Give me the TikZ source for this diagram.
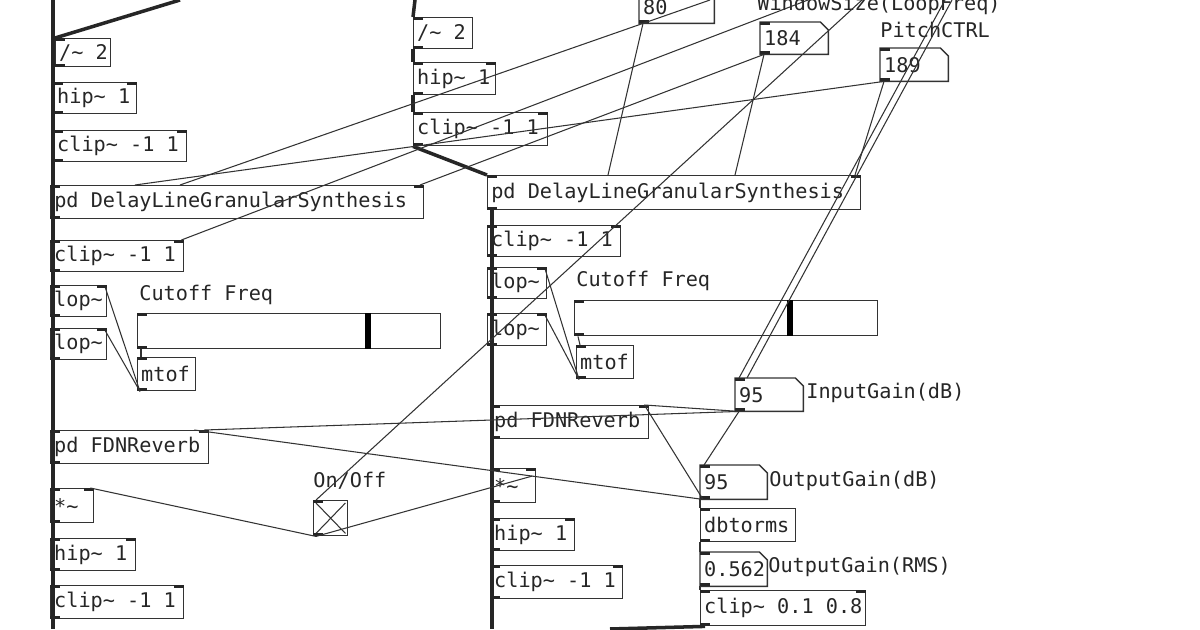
\documentclass[tikz,border=0pt]{standalone}
\usepackage{fontspec}
\setmonofont{DejaVu Sans Mono}
\usetikzlibrary{calc}

% pd object box at pixel position (top left), width and height in pixels
\newcommand{\pdbox}[6]{\node[obj,minimum width=#4*0.02cm,minimum height=#5*0.02cm] (#1) at (#2,#3) {\makebox[\dimexpr 0.569pt*#4-4pt\relax][l]{#6}};}
% number box with the cut corner
\newcommand{\pdnum}[6]{%
  \node[obj,draw=none,minimum width=#4*0.02cm,minimum height=#5*0.02cm] (#1) at (#2,#3) {\makebox[\dimexpr 0.569pt*#4-4pt\relax][l]{#6}};
  \draw[boxline] (#1.north west) -- ($(#1.north east)-(8,0)$) -- ($(#1.north east)+(0,8)$) -- (#1.south east) -- (#1.south west) -- cycle;}

\begin{document}
\begin{tikzpicture}
[
    x=0.02cm, y=-0.02cm,
    boxline/.style={draw=black!80, line width=0.8pt},
    obj/.style={
        boxline,
        rectangle,
        anchor=north west,
        inner sep=1pt,
        font=\ttfamily\fontsize{11.5}{12}\selectfont,
        text=black!85,
    },
    lbl/.style={anchor=west, inner sep=0pt, font=\ttfamily\fontsize{11.5}{12}\selectfont, text=black!85},
    sig/.style={line width=2pt, black!85},
    ctl/.style={line width=0.6pt, black!80},
]
\useasboundingbox[fill=white] (0,0) rectangle (1200,629);

% left chain
\pdbox{divA}{55}{38}{55}{28}{/\char`~{} 2}
\pdbox{hipA}{53}{82}{83}{31}{hip\char`~{} 1}
\pdbox{clipA}{53}{130}{133}{31}{clip\char`~{} -1 1}
\pdbox{dlA}{50}{185}{373}{33}{pd DelayLineGranularSynthesis}
\pdbox{clipB}{50}{240}{133}{31}{clip\char`~{} -1 1}
\pdbox{lopA}{50}{285}{56}{31}{lop\char`~}
\pdbox{lopB}{50}{328}{56}{31}{lop\char`~}
\node[lbl] (cutA) at (139,295) {Cutoff Freq};
\pdbox{sldA}{137}{313}{303}{35}{}
\pdbox{mtofA}{137}{357}{58}{33}{mtof}
\pdbox{fdnA}{50}{430}{158}{33}{pd FDNReverb}
\pdbox{mulA}{50}{488}{43}{34}{*\char`~}
\pdbox{tgl}{313}{500}{34}{35}{}
\node[lbl] (onoff) at (313,481) {On/Off};
\pdbox{hipB}{50}{538}{85}{32}{hip\char`~{} 1}
\pdbox{clipC}{50}{585}{133}{33}{clip\char`~{} -1 1}

% middle chain
\pdbox{divB}{413}{17}{59}{31}{/\char`~{} 2}
\pdbox{hipC}{413}{62}{82}{32}{hip\char`~{} 1}
\pdbox{clipD}{413}{112}{134}{33}{clip\char`~{} -1 1}
\pdbox{dlB}{487}{175}{373}{34}{pd DelayLineGranularSynthesis}
\pdbox{clipE}{487}{225}{133}{31}{clip\char`~{} -1 1}
\pdbox{lopC}{487}{267}{59}{31}{lop\char`~}
\pdbox{lopD}{487}{313}{59}{32}{lop\char`~}
\node[lbl] (cutB) at (576,281) {Cutoff Freq};
\pdbox{sldB}{574}{300}{303}{35}{}
\pdbox{mtofB}{576}{345}{57}{33}{mtof}
\pdbox{fdnB}{490}{405}{158}{33}{pd FDNReverb}
\pdbox{mulB}{490}{468}{45}{34}{*\char`~}
\pdbox{hipD}{490}{518}{84}{32}{hip\char`~{} 1}
\pdbox{clipF}{490}{565}{132}{33}{clip\char`~{} -1 1}

% controls
\pdnum{nLoop}{639}{-10}{74}{32}{80}
\node[lbl] (wsize) at (757,5) {WindowSize(LoopFreq)};
\pdnum{nWin}{760}{22}{67}{31}{184}
\node[lbl] (pitch) at (880,30) {PitchCTRL};
\pdnum{nPitch}{880}{48}{67}{32}{189}
\pdnum{nIn}{735}{378}{67}{32}{95}
\node[lbl] (ingain) at (806,393) {InputGain(dB)};
\pdnum{nOut}{700}{465}{66}{33}{95}
\node[lbl] (outgain) at (769,481) {OutputGain(dB)};
\pdbox{dbt}{700}{508}{95}{33}{dbtorms}
\pdnum{nRms}{700}{552}{66}{33}{0.562}
\node[lbl] (rmsgain) at (768,567) {OutputGain(RMS)};
\pdbox{clipG}{700}{590}{165}{35}{clip\char`~{} 0.1 0.8}

% slider markers and toggle cross
\draw[line width=3pt] ($(sldA.north west)+(231,0)$) -- ($(sldA.south west)+(231,0)$);
\draw[line width=3pt] ($(sldB.north west)+(216,0)$) -- ($(sldB.south west)+(216,0)$);
\draw[ctl] ($(tgl.north west)+(3,3)$) -- ($(tgl.south east)+(-3,-3)$);
\draw[ctl] ($(tgl.north east)+(-3,3)$) -- ($(tgl.south west)+(3,-3)$);

% inlets and outlets
\foreach \n in {divA,hipA,clipA,dlA,clipB,lopA,lopB,sldA,mtofA,fdnA,mulA,tgl,hipB,clipC,
                divB,hipC,clipD,dlB,clipE,lopC,lopD,sldB,mtofB,fdnB,mulB,hipD,clipF,
                nLoop,nWin,nPitch,nIn,nOut,dbt,nRms,clipG}{
  \fill[black!85] (\n.north west) rectangle ++(10,3);
  \fill[black!85] (\n.south west) rectangle ++(10,-3);
}
\foreach \n in {hipA,clipA,dlA,clipB,lopA,lopB,fdnA,mulA,hipB,clipC,hipC,clipD,dlB,clipE,lopC,lopD,fdnB,mulB,hipD,clipF,clipG}{
  \fill[black!85] (\n.north east) rectangle ++(-10,3);
}

% signal connections
\draw[sig] (53,0) -- (53,629);
\draw[sig] (divA.north west) -- (180,0);
\draw[sig] (415,0) -- (divB.north west);
\draw[sig] (divB.south west) -- (hipC.north west);
\draw[sig] (hipC.south west) -- (clipD.north west);
\draw[sig] (clipD.south west) -- (dlB.north west);
\draw[sig] (492,209) -- (492,629);
\draw[sig] ($(clipG.south west)+(5,0)$) -- (610,629);

% control connections
\draw[ctl] ($(nLoop.south west)+(4,0)$) -- ($(dlB.north west)+(121,0)$);
\draw[ctl] (710,0) -- ($(dlA.north west)+(130,0)$);
\draw[ctl] ($(nWin.south west)+(4,0)$) -- ($(dlA.north west)+(370,0)$);
\draw[ctl] ($(nWin.south west)+(4,0)$) -- ($(dlB.north west)+(248,0)$);
\draw[ctl] ($(nPitch.south west)+(4,0)$) -- ($(dlB.north west)+(368,0)$);
\draw[ctl] ($(nPitch.south west)+(4,0)$) -- ($(dlA.north west)+(85,0)$);
\draw[ctl] (808,0) -- ($(clipB.north east)+(-3,0)$);
\draw[ctl] (862,0) -- ($(tgl.north west)+(3,0)$);
\draw[ctl] (945,0) -- ($(nIn.north west)+(4,0)$);
\draw[ctl] (952,0) -- ($(nIn.north west)+(12,0)$);
\draw[ctl] ($(sldA.south west)+(4,0)$) -- ($(mtofA.north west)+(4,0)$);
\draw[ctl] ($(mtofA.south west)+(3,0)$) -- ($(lopA.north east)+(-2,3)$);
\draw[ctl] ($(mtofA.south west)+(3,0)$) -- ($(lopB.north east)+(-2,3)$);
\draw[ctl] ($(sldB.south west)+(4,0)$) -- ($(mtofB.north west)+(4,0)$);
\draw[ctl] ($(mtofB.south west)+(3,0)$) -- ($(lopC.north east)+(-2,3)$);
\draw[ctl] ($(mtofB.south west)+(3,0)$) -- ($(lopD.north east)+(-2,3)$);
\draw[ctl] ($(nIn.south west)+(4,0)$) -- ($(fdnA.north east)+(-5,0)$);
\draw[ctl] ($(nIn.south west)+(4,0)$) -- ($(fdnB.north east)+(-5,0)$);
\draw[ctl] ($(nIn.south west)+(4,0)$) -- ($(nOut.north west)+(4,0)$);
\draw[ctl] ($(nOut.south west)+(3,0)$) -- ($(fdnA.north east)+(-15,0)$);
\draw[ctl] ($(nOut.south west)+(3,0)$) -- ($(fdnB.north east)+(-5,0)$);
\draw[ctl] ($(tgl.south west)+(3,0)$) -- ($(mulA.north east)+(-4,0)$);
\draw[ctl] ($(tgl.south west)+(3,0)$) -- ($(mulB.north east)+(-4,8)$);
\draw[ctl] (nOut.south west) -- (dbt.north west);
\draw[ctl] (dbt.south west) -- (nRms.north west);
\draw[ctl] (nRms.south west) -- (clipG.north west);
\end{tikzpicture}
\end{document}
